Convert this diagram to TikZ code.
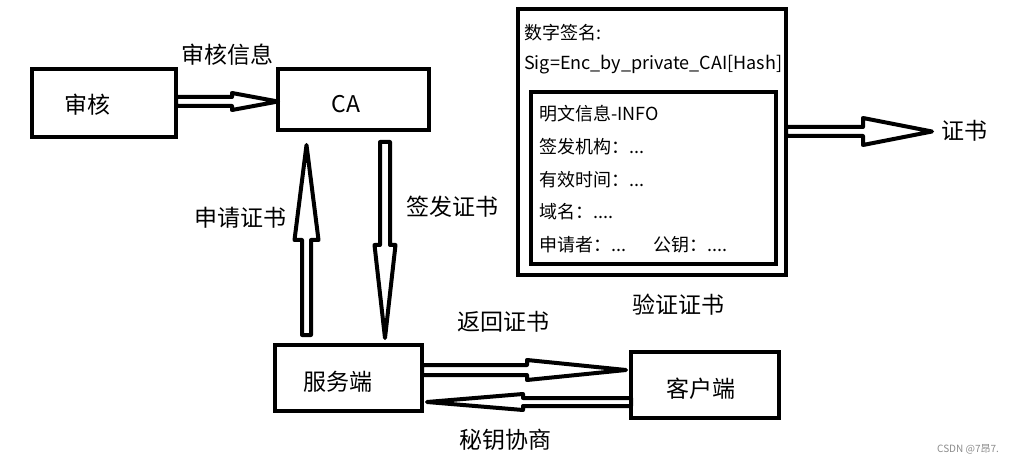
\documentclass[tikz,border=0pt]{standalone}
\usepackage{fontspec}
\setmainfont{Noto Sans CJK SC}
\usetikzlibrary{calc}
\tikzset{
  box/.style={draw, line width=4.5pt, inner sep=0pt, outer sep=0pt},
  big/.style={inner sep=0pt, font=\fontsize{23}{28}\selectfont},
  small/.style={inner sep=0pt, anchor=west, font=\fontsize{18}{22}\selectfont},
  barrow/.style n args={3}{draw, line width=4pt, line join=round,
    to path={let \p1=(\tikztostart), \p2=(\tikztotarget), \n1={atan2(\y2-\y1,\x2-\x1)} in
      ([shift={(\p1)},rotate=\n1]0,#1) -- ([shift={(\p2)},rotate=\n1]-#3,#1)
      -- ([shift={(\p2)},rotate=\n1]-#3,#2) -- (\p2)
      -- ([shift={(\p2)},rotate=\n1]-#3,-#2) -- ([shift={(\p2)},rotate=\n1]-#3,-#1)
      -- ([shift={(\p1)},rotate=\n1]0,-#1) -- cycle}}
}
\begin{document}
\begin{tikzpicture}[x=1pt,y=-1pt]
\useasboundingbox[fill=white] (0,0) rectangle (1020,465);
% boxes
\node[box, minimum width=144pt, minimum height=68pt] (sh) at (104,103) {};
\node[box, minimum width=151pt, minimum height=61pt] (ca) at (353.5,99.5) {};
\node[box, minimum width=147pt, minimum height=66pt] (srv) at (348.5,378) {};
\node[box, minimum width=148pt, minimum height=66pt] (cli) at (705,385) {};
\node[box, minimum width=268pt, minimum height=266pt] (certout) at (652,142) {};
\node[box, minimum width=245pt, minimum height=172pt] (certin) at (653.5,178) {};
% box texts
\node[big] (tsh) at (87.5,105) {审核};
\node[big] (tca) at (346,104) {CA};
\node[big] (tsrv) at (337.5,382) {服务端};
\node[big] (tcli) at (701,389) {客户端};
% labels
\node[big] (l1) at (227,55) {审核信息};
\node[big] (l2) at (240,218) {申请证书};
\node[big] (l3) at (452.5,207) {签发证书};
\node[big] (l4) at (503,322) {返回证书};
\node[big] (l5) at (505,440) {秘钥协商};
\node[big] (l6) at (678,305) {验证证书};
\node[big, anchor=west] (zs) at (941,131) {证书};
% certificate texts
\node[small] (c1) at (524,33) {数字签名:};
\node[small] (c2) at (524,65) {Sig=Enc\_by\_private\_CAI[Hash]};
\node[small] (c3) at (539,114) {明文信息-INFO};
\node[small] (c4) at (539,147) {签发机构：...};
\node[small] (c5) at (539,180) {有效时间：...};
\node[small] (c6) at (539,212) {域名：....};
\node[small] (c7) at (539,245) {申请者：...};
\node[small] (c8) at (653,245) {公钥：....};
% watermark
\node[inner sep=0pt, text=black!45, font=\fontsize{10}{12}\selectfont] (wm) at (968,449) {CSDN @7昂7.};
% arrows
\draw[barrow={4.5}{8.5}{46}] (sh.east |- 0,101.5) to (ca.west |- 0,101.5);
\draw[barrow={4.5}{12}{95}] ($(srv.north)+(-42,-10)$) to ($(ca.south)+(-47,15)$);
\draw[barrow={5}{10.5}{93}] ($(ca.south)+(31.5,12)$) to ($(srv.north)+(36.5,-7)$);
\draw[barrow={5}{10}{99}] ($(srv.east)+(0,-8)$) to ($(cli.west)+(-5,-15)$);
\draw[barrow={4}{8}{96}] ($(cli.west)+(0,17)$) to ($(srv.east)+(5,24)$);
\draw[barrow={4.5}{13.5}{69}] ($(certout.east)+(0,-10.5)$) to ($(zs.west)+(-9,0.5)$);
\end{tikzpicture}
\end{document}
